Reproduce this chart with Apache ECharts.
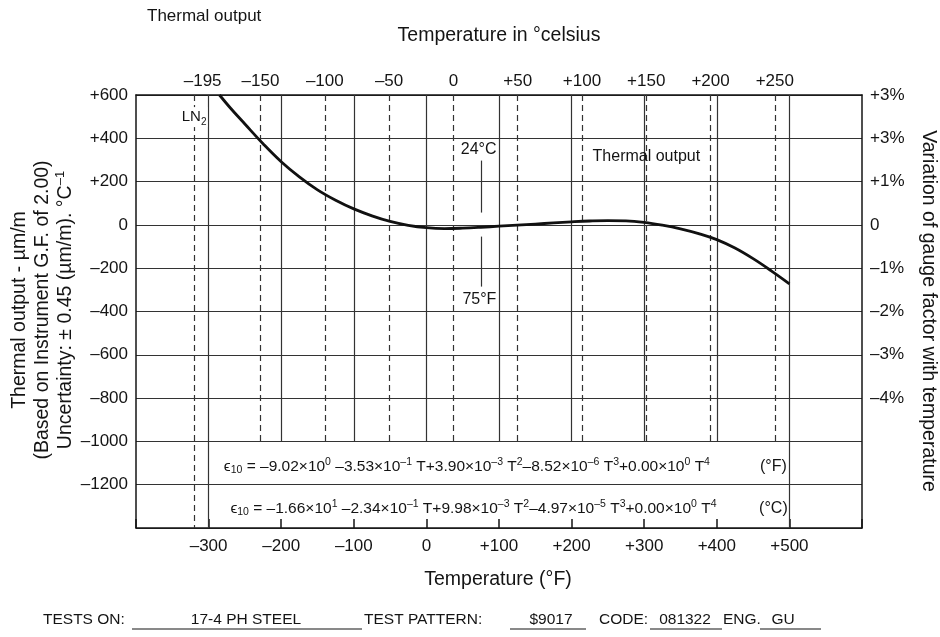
<!DOCTYPE html>
<html>
<head>
<meta charset="utf-8">
<script src="https://cdn.jsdelivr.net/npm/echarts@6/dist/echarts.min.js"></script>
<style>html,body{margin:0;padding:0;background:#fff}#c{width:940px;height:637px}</style>
</head>
<body>
<div id="c"></div>
<script>
// ---- data ----
const tempF = [-285,-270,-250,-225,-200,-175,-150,-125,-100,-75,-50,-25,0,25,50,75,100,125,150,175,200,225,250,275,300,325,350,375,400,425,450,475,500];
const thermalOutput = [600,540,466,375,292,222,162,114,74,42,16,-2,-13,-17,-15,-11,-6,-1,4,9,14,18,20,19,12,-1,-18,-40,-68,-107,-156,-212,-272];

const fTickValues = [-300,-200,-100,0,100,200,300,400,500];
const fTickLabels = ['–300','–200','–100','0','+100','+200','+300','+400','+500'];
const cTickValues = [-195,-150,-100,-50,0,50,100,150,200,250];
const cTickLabels = ['–195','–150','–100','–50','0','+50','+100','+150','+200','+250'];
const yTickValues = [600,400,200,0,-200,-400,-600,-800,-1000,-1200];
const yTickLabels = ['+600','+400','+200','0','–200','–400','–600','–800','–1000','–1200'];
const gfTickValues = [600,400,200,0,-200,-400,-600,-800];
const gfTickLabels = ['+3%','+3%','+1%','0','–1%','–2%','–3%','–4%'];

const shortGridF = [-200,-100,0,100,200,300,400];   // solid verticals, stop at equation box
const fullGridF = [-300,500];                       // solid verticals, full height
const dashedC = [-150,-100,-50,0,50,100,150,200,250]; // dashed Celsius verticals
const ln2F = -320;                                  // LN2 temperature (dashed, full height)
const roomTempF = 75;                               // 24 °C / 75 °F marker

const eqF = 'ϵ{sb|10} = –9.02×10{sp|0} –3.53×10{sp|–1} T+3.90×10{sp|–3} T{sp|2}–8.52×10{sp|–6} T{sp|3}+0.00×10{sp|0} T{sp|4}';
const eqC = 'ϵ{sb|10} = –1.66×10{sp|1} –2.34×10{sp|–1} T+9.98×10{sp|–3} T{sp|2}–4.97×10{sp|–5} T{sp|3}+0.00×10{sp|0} T{sp|4}';

// ---- chart ----
const FONT = '"Liberation Sans", Arial, Helvetica, sans-serif';
const INK = '#141414';
const GRID = '#333333';
const chart = echarts.init(document.getElementById('c'), null, {renderer: 'canvas'});

function lookup(vals, labels) {
  return v => { const i = vals.findIndex(t => Math.abs(t - v) < 1e-6); return i < 0 ? '' : labels[i]; };
}
const Y_TOP = 600, Y_BOX = -1000, Y_BOT = -1400;
const solidLineStyle = {type: 'solid', color: GRID, width: 1.2};
const dashedLineStyle = {type: [6, 4], color: GRID, width: 1.2};

const solidSegs = shortGridF.map(x => [{coord: [x, Y_TOP]}, {coord: [x, Y_BOX]}])
  .concat(fullGridF.map(x => [{coord: [x, Y_TOP]}, {coord: [x, Y_BOT]}]))
  .concat([[{coord: [roomTempF, 297]}, {coord: [roomTempF, 57]}],
           [{coord: [roomTempF, -54]}, {coord: [roomTempF, -285]}]])
  .concat([[{coord: [ln2F, Y_TOP], lineStyle: dashedLineStyle}, {coord: [ln2F, Y_BOT]}]]);
const dashedSegs = dashedC.map(c => [{coord: [c, Y_TOP]}, {coord: [c, Y_BOX]}]);

const supRich = {
  sp: {fontSize: 10.5, verticalAlign: 'top', fontFamily: FONT, color: INK, lineHeight: 19},
  sb: {fontSize: 10.5, verticalAlign: 'bottom', fontFamily: FONT, color: INK, lineHeight: 19}
};
function note(x, y, text, extra) {
  return {
    value: [x, y],
    label: Object.assign({show: true, position: 'inside', formatter: text, fontSize: 16, opacity: 1,
      fontFamily: FONT, color: INK, lineHeight: 19, rich: supRich}, extra || {})
  };
}

const option = {
  animation: false,
  backgroundColor: '#fff',
  grid: {left: 136, right: 78, top: 95, bottom: 109, outerBoundsMode: 'none', containLabel: false},
  xAxis: [
    {type: 'value', position: 'bottom', min: -400, max: 600, interval: 100,
     axisLine: {show: true, onZero: false, lineStyle: {color: INK, width: 1.5}},
     axisTick: {show: true, inside: true, length: 9, lineStyle: {color: INK, width: 1.5}},
     axisLabel: {formatter: lookup(fTickValues, fTickLabels), fontSize: 17, fontFamily: FONT, color: INK, margin: 10},
     splitLine: {show: false}},
    {type: 'value', position: 'top', min: -246.85, max: 317.8,
     axisLine: {show: true, onZero: false, lineStyle: {color: INK, width: 1.5}},
     axisTick: {show: false},
     axisLabel: {customValues: cTickValues, formatter: lookup(cTickValues, cTickLabels), fontSize: 17, fontFamily: FONT, color: INK, margin: 5},
     splitLine: {show: false}}
  ],
  yAxis: [
    {type: 'value', min: -1400, max: 600, interval: 200,
     axisLine: {show: true, onZero: false, lineStyle: {color: INK, width: 1.5}},
     axisTick: {show: false},
     axisLabel: {formatter: lookup(yTickValues, yTickLabels), fontSize: 17, fontFamily: FONT, color: INK, margin: 8},
     splitLine: {show: true, lineStyle: solidLineStyle}},
    {type: 'value', position: 'right', min: -1400, max: 600, interval: 200,
     axisLine: {show: true, onZero: false, lineStyle: {color: INK, width: 1.5}},
     axisTick: {show: false},
     axisLabel: {formatter: lookup(gfTickValues, gfTickLabels), fontSize: 17, fontFamily: FONT, color: INK, margin: 8},
     splitLine: {show: false}}
  ],
  series: [
    {type: 'line', name: 'grid-solid', xAxisIndex: 0, yAxisIndex: 0, data: [], silent: true,
     markLine: {silent: true, symbol: ['none', 'none'], label: {show: false}, lineStyle: solidLineStyle, data: solidSegs, animation: false}},
    {type: 'line', name: 'grid-dashed', xAxisIndex: 1, yAxisIndex: 0, data: [], silent: true,
     markLine: {silent: true, symbol: ['none', 'none'], label: {show: false}, lineStyle: dashedLineStyle, data: dashedSegs, animation: false}},
    {type: 'line', name: 'Thermal output', xAxisIndex: 0, yAxisIndex: 0,
     data: tempF.map((t, i) => [t, thermalOutput[i]]),
     smooth: 0.4, showSymbol: false, symbol: 'none', silent: true, z: 10,
     lineStyle: {color: '#111', width: 2.8}},
    {type: 'scatter', name: 'notes', xAxisIndex: 0, yAxisIndex: 0, symbolSize: 0, silent: true, z: 12,
     itemStyle: {opacity: 1},
     data: [
       note(ln2F, 498, 'LN{sb|2}', {backgroundColor: '#fff', padding: [0, 1], fontSize: 15,
            rich: {sb: {fontSize: 10, verticalAlign: 'bottom', fontFamily: FONT, color: INK, lineHeight: 20}}}),
       note(roomTempF - 3, 350, '24°C'),
       note(roomTempF - 2, -345, '75°F'),
       note(303, 314, 'Thermal output'),
       note(-279, -1115, eqF, {align: 'left', fontSize: 15.5}),
       note(-270, -1310, eqC, {align: 'left', fontSize: 15.5}),
       note(478, -1115, '(°F)'),
       note(478, -1310, '(°C)')
     ]}
  ],
  graphic: [
    {type: 'text', x: 147, y: 16, style: {text: 'Thermal output', font: '17px ' + FONT, fill: INK, verticalAlign: 'middle'}},
    {type: 'text', x: 499, y: 36, style: {text: 'Temperature in °celsius', font: '19.5px ' + FONT, fill: INK, align: 'center', verticalAlign: 'middle'}},
    {type: 'text', x: 498, y: 580, style: {text: 'Temperature (°F)', font: '19.5px ' + FONT, fill: INK, align: 'center', verticalAlign: 'middle'}},
    {type: 'text', x: 20, y: 310, rotation: Math.PI / 2, style: {text: 'Thermal output - µm/m', font: '19.5px ' + FONT, fill: INK, align: 'center', verticalAlign: 'middle'}},
    {type: 'text', x: 43, y: 310, rotation: Math.PI / 2, style: {text: '(Based on Instrument G.F. of 2.00)', font: '19.5px ' + FONT, fill: INK, align: 'center', verticalAlign: 'middle'}},
    {type: 'text', x: 66, y: 310, rotation: Math.PI / 2, style: {text: 'Uncertainty: ± 0.45 (µm/m). °C{s|–1}', font: '19.5px ' + FONT, fill: INK, align: 'center', verticalAlign: 'middle',
      rich: {s: {fontSize: 13, fontFamily: FONT, verticalAlign: 'top', lineHeight: 24, fill: INK}}}},
    {type: 'text', x: 928, y: 311, rotation: -Math.PI / 2, style: {text: 'Variation of gauge factor with temperature', font: '19.5px ' + FONT, fill: INK, align: 'center', verticalAlign: 'middle'}},
    // footer
    {type: 'text', x: 43, y: 620, style: {text: 'TESTS ON:', font: '15.5px ' + FONT, fill: INK, verticalAlign: 'middle'}},
    {type: 'text', x: 246, y: 620, style: {text: '17-4 PH STEEL', font: '15.5px ' + FONT, fill: INK, align: 'center', verticalAlign: 'middle'}},
    {type: 'line', shape: {x1: 132, y1: 629, x2: 362, y2: 629}, style: {stroke: INK, lineWidth: 1.2}},
    {type: 'text', x: 364, y: 620, style: {text: 'TEST PATTERN:', font: '15.5px ' + FONT, fill: INK, verticalAlign: 'middle'}},
    {type: 'text', x: 551, y: 620, style: {text: '$9017', font: '15.5px ' + FONT, fill: INK, align: 'center', verticalAlign: 'middle'}},
    {type: 'line', shape: {x1: 510, y1: 629, x2: 586, y2: 629}, style: {stroke: INK, lineWidth: 1.2}},
    {type: 'text', x: 599, y: 620, style: {text: 'CODE:', font: '15.5px ' + FONT, fill: INK, verticalAlign: 'middle'}},
    {type: 'text', x: 685, y: 620, style: {text: '081322', font: '15.5px ' + FONT, fill: INK, align: 'center', verticalAlign: 'middle'}},
    {type: 'line', shape: {x1: 650, y1: 629, x2: 722, y2: 629}, style: {stroke: INK, lineWidth: 1.2}},
    {type: 'text', x: 723, y: 620, style: {text: 'ENG.', font: '15.5px ' + FONT, fill: INK, verticalAlign: 'middle'}},
    {type: 'text', x: 783, y: 620, style: {text: 'GU', font: '15.5px ' + FONT, fill: INK, align: 'center', verticalAlign: 'middle'}},
    {type: 'line', shape: {x1: 760, y1: 629, x2: 821, y2: 629}, style: {stroke: INK, lineWidth: 1.2}}
  ]
};
chart.setOption(option);
</script>
</body>
</html>
